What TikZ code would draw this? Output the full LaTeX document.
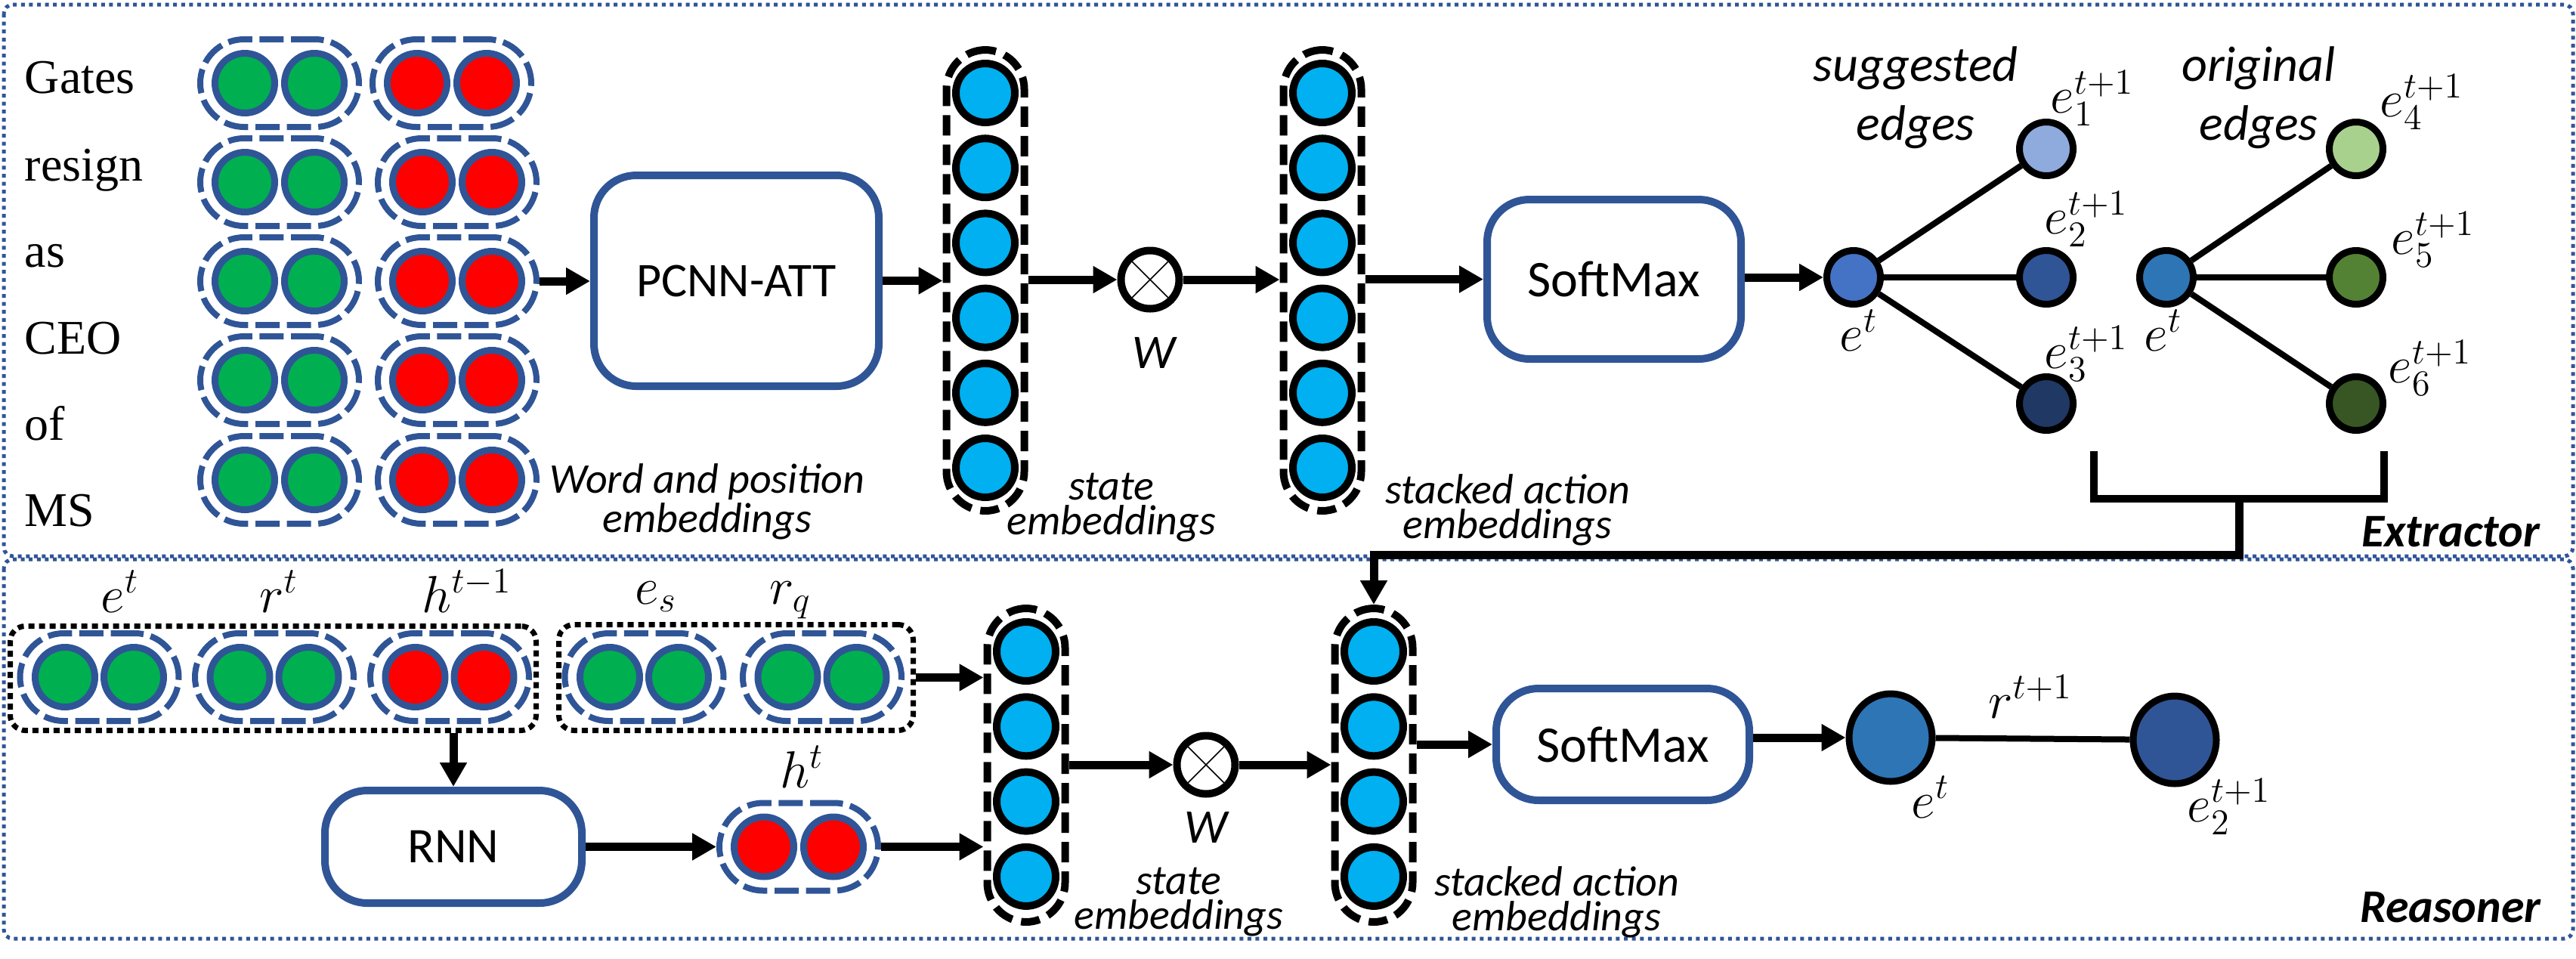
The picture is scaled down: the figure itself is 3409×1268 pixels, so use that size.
\documentclass[tikz,border=0pt]{standalone}
\usepackage{fontspec}
\newfontfamily\carl{Carlito}
\newfontfamily\serifw{Liberation Serif}
\usetikzlibrary{arrows.meta,shapes.geometric}
\definecolor{bluD}{HTML}{2F5597}
\definecolor{greenF}{HTML}{00B050}
\definecolor{redF}{HTML}{FF0000}
\definecolor{cyanF}{HTML}{00B0F0}
\definecolor{nA}{HTML}{4472C4}
\definecolor{nB}{HTML}{8FAADC}
\definecolor{nC}{HTML}{203864}
\definecolor{nD}{HTML}{2E75B6}
\definecolor{gA}{HTML}{A9D18E}
\definecolor{gB}{HTML}{548235}
\definecolor{gC}{HTML}{375623}
\tikzset{
  frame/.style={draw=bluD, line width=1.25pt, dash pattern=on 1.25pt off 1.4pt, rounded corners=3pt},
  pairbox/.style={draw=bluD, line width=2pt, dash pattern=on 8pt off 2.4pt, rounded corners=14.5pt, minimum width=52.5pt, minimum height=29pt, inner sep=0pt},
  embc/.style={circle, draw=bluD, line width=2.25pt, minimum size=19.75pt, inner sep=0pt},
  colbox/.style={draw=black, line width=2.5pt, dash pattern=on 6.75pt off 3pt, rounded corners=13pt, minimum width=25.75pt, inner sep=0pt},
  colc/.style={circle, draw=black, line width=2.5pt, fill=cyanF, minimum size=19.5pt, inner sep=0pt},
  ctrl/.style={draw=bluD, line width=2.5pt, rounded corners=14pt, fill=white, inner sep=0pt},
  otimesn/.style={circle, draw=black, line width=2.5pt, fill=white, minimum size=19.25pt, inner sep=0pt},
  gnode/.style={circle, draw=black, line width=2.25pt, minimum size=17.75pt, inner sep=0pt},
  bign/.style={ellipse, draw=black, line width=2.25pt, minimum width=27.5pt, minimum height=29pt, inner sep=0pt},
  arr/.style={line width=2.75pt, -{Triangle[length=8pt,width=8.5pt]}},
  edgeln/.style={line width=2pt},
  dbox/.style={draw=black, line width=1.75pt, dash pattern=on 2pt off 1.5pt, rounded corners=5pt, inner sep=0pt},
  lab/.style={font=\carl\itshape\fontsize{14}{11.5}\selectfont, align=center, inner sep=0pt},
  biglab/.style={font=\carl\itshape\fontsize{16.5}{19.5}\selectfont, align=center, inner sep=0pt},
  mlab/.style={font=\fontsize{17}{20}\selectfont, inner sep=0pt},
  wlab/.style={font=\serifw\fontsize{16}{18}\selectfont, anchor=base west, inner sep=0pt},
  seclab/.style={font=\carl\bfseries\itshape\fontsize{15.5}{18}\selectfont, anchor=base, inner sep=0pt},
  wtxt/.style={font=\carl\itshape\fontsize{16}{18}\selectfont, inner sep=0pt},
}
\begin{document}
\begin{tikzpicture}[x=0.25pt, y=-0.25pt]
\useasboundingbox (0,0) rectangle (3409,1268);
% frames
\draw[frame] (5,6) rectangle (3405,736);
\draw[frame] (5,740) rectangle (3405,1242);
\node[seclab] (extr) at (3243,723) {Extractor};
\node[seclab] (reas) at (3243,1220) {Reasoner};

% ---------- Extractor ----------
\node[wlab] (w1) at (32,123) {Gates};
\node[wlab] (w2) at (32,239) {resign};
\node[wlab] (w3) at (32,353) {as};
\node[wlab] (w4) at (32,468) {CEO};
\node[wlab] (w5) at (32,582) {of};
\node[wlab] (w6) at (32,696) {MS};

\foreach \i/\y/\rx in {1/110/598,2/241/605,3/372/605,4/503/605,5/635/605} {
  \node[pairbox] (g\i) at (370,\y) {};
  \node[embc, fill=greenF] (g\i a) at (324,\y) {};
  \node[embc, fill=greenF] (g\i b) at (416,\y) {};
  \node[pairbox] (r\i) at (\rx,\y) {};
  \node[embc, fill=redF] (r\i a) at (\rx-46,\y) {};
  \node[embc, fill=redF] (r\i b) at (\rx+46,\y) {};
}
\node[lab] (wpe) at (936,664) {Word and position\\embeddings};

\node[ctrl, minimum width=94.25pt, minimum height=69.75pt, font=\carl\fontsize{16}{19}\selectfont] (pcnn) at (974.5,371.5) {PCNN-ATT};
\draw[arr] (r3.east) -- (pcnn.west |- r3.east);

\node[colbox, minimum height=152.5pt] (c1) at (1304,371) {};
\foreach \k in {0,...,5} \node[colc] (c1n\k) at (1304,123+99.2*\k) {};
\node[lab] (c1l) at (1471,672) {state\\embeddings};

\draw[arr] (pcnn.east) -- (c1.west |- pcnn.east);

\node[otimesn] (x1) at (1522,370) {};
\draw[line width=0.4pt] (x1.45) -- (x1.225) (x1.135) -- (x1.-45);
\node[wtxt] (w1l) at (1527,467) {W};
\draw[arr] (c1.east |- x1) -- (x1.west);

\node[colbox, minimum height=152.5pt] (c2) at (1750,371) {};
\foreach \k in {0,...,5} \node[colc] (c2n\k) at (1750,123+99.2*\k) {};
\node[lab] (c2l) at (1995,675) {stacked action\\embeddings};
\draw[arr] (x1.east) -- (c2.west |- x1);

\node[ctrl, minimum width=84pt, minimum height=52.75pt, font=\carl\fontsize{17}{20}\selectfont] (sm1) at (2136,369.5) {SoftMax};
\draw[arr] (c2.east |- sm1) -- (sm1.west);

% graphs
\node[gnode, fill=nA] (et1) at (2453,367) {};
\node[gnode, fill=nB] (s1) at (2708,197) {};
\node[gnode, fill=bluD] (s2) at (2708,367) {};
\node[gnode, fill=nC] (s3) at (2708,534) {};
\draw[arr] (sm1.east |- et1) -- (et1.west);
\draw[edgeln] (et1) -- (s1) (et1) -- (s2) (et1) -- (s3);

\node[gnode, fill=nD] (et2) at (2867,367) {};
\node[gnode, fill=gA] (o4) at (3118,197) {};
\node[gnode, fill=gB] (o5) at (3118,367) {};
\node[gnode, fill=gC] (o6) at (3118,534) {};
\draw[edgeln] (et2) -- (o4) (et2) -- (o5) (et2) -- (o6);

\node[biglab] (sugg) at (2535,129) {suggested\\edges};
\node[biglab] (orig) at (2989,129) {original\\edges};
\node[mlab] (ls1) at (2769,130) {$e_1^{t+1}$};
\node[mlab] (ls2) at (2761,290) {$e_2^{t+1}$};
\node[mlab] (ls3) at (2761,468) {$e_3^{t+1}$};
\node[mlab] (lo4) at (3205,135) {$e_4^{t+1}$};
\node[mlab] (lo5) at (3220,317) {$e_5^{t+1}$};
\node[mlab] (lo6) at (3216,487) {$e_6^{t+1}$};
\node[mlab] (le1) at (2460,437) {$e^t$};
\node[mlab] (le2) at (2863,437) {$e^t$};

% bracket
\coordinate (bl) at (2771,597);
\coordinate (br) at (3155,597);
\coordinate (bm) at (2963,660);
\draw[line width=2.5pt] (bl) -- (2771,660) -- (3155,660) -- (br);

% ---------- Reasoner ----------
\node[dbox, minimum width=174pt, minimum height=34.5pt] (db1) at (361.5,897.5) {};
\node[dbox, minimum width=117.25pt, minimum height=35pt] (db2) at (974,896.5) {};
\foreach \n/\x/\c in {pe/131.5/greenF, pr/363/greenF, ph/595/redF, pes/852.5/greenF, prq/1088/greenF} {
  \node[pairbox] (\n) at (\x,896) {};
  \node[embc, fill=\c] (\n a) at (\x-45.5,896) {};
  \node[embc, fill=\c] (\n b) at (\x+45.5,896) {};
}
\node[mlab, anchor=base] (lpe) at (159,810) {$e^t$};
\node[mlab, anchor=base] (lpr) at (369,810) {$r^t$};
\node[mlab, anchor=base] (lph) at (618,810) {$h^{t-1}$};
\node[mlab, anchor=base] (lpes) at (868,799) {$e_s$};
\node[mlab, anchor=base] (lprq) at (1046,799) {$r_q$};

\node[ctrl, minimum width=85pt, minimum height=37.25pt, font=\carl\fontsize{16.5}{19}\selectfont] (rnn) at (600,1120.5) {RNN};
\draw[arr] (rnn.north |- db1.south) -- (rnn.north);

\node[pairbox] (pht) at (1057,1120.5) {};
\node[embc, fill=redF] (phta) at (1011,1120.5) {};
\node[embc, fill=redF] (phtb) at (1103,1120.5) {};
\node[mlab, anchor=base] (lpht) at (1061,1042) {$h^t$};
\draw[arr] (rnn.east) -- (pht.west);

\node[colbox, minimum height=103.75pt] (c3) at (1358,1012.5) {};
\foreach \k in {0,...,3} \node[colc] (c3n\k) at (1358,862+99.3*\k) {};
\draw[arr] (db2.east) -- (c3.west |- db2.east);
\draw[arr] (pht.east) -- (c3.west |- pht.east);
\node[lab] (c3l) at (1560,1194) {state\\embeddings};

\node[otimesn] (x2) at (1596,1012) {};
\draw[line width=0.4pt] (x2.45) -- (x2.225) (x2.135) -- (x2.-45);
\node[wtxt] (w2l) at (1596,1095) {W};
\draw[arr] (c3.east |- x2) -- (x2.west);

\node[colbox, minimum height=103.75pt] (c4) at (1818,1012.5) {};
\foreach \k in {0,...,3} \node[colc] (c4n\k) at (1818,862+99.3*\k) {};
\draw[arr] (x2.east) -- (c4.west |- x2);
\node[lab] (c4l) at (2060,1194) {stacked action\\embeddings};

\draw[arr] (bm) -- (2963,734) -| (c4.north);

\node[ctrl, minimum width=83.75pt, minimum height=37pt, font=\carl\fontsize{17}{20}\selectfont] (sm2) at (2147.5,985) {SoftMax};
\draw[arr] (c4.east |- sm2) -- (sm2.west);

\node[bign, fill=nD] (be1) at (2502,976) {};
\node[bign, fill=bluD] (be2) at (2878,979) {};
\draw[arr] (sm2.east |- be1) -- (be1.west);
\draw[edgeln] (be1) -- (be2);
\node[mlab, anchor=base] (lr) at (2687,950) {$r^{t+1}$};
\node[mlab, anchor=base] (lbe1) at (2555,1082) {$e^t$};
\node[mlab, anchor=base] (lbe2) at (2950,1087) {$e_2^{t+1}$};
\end{tikzpicture}
\end{document}
